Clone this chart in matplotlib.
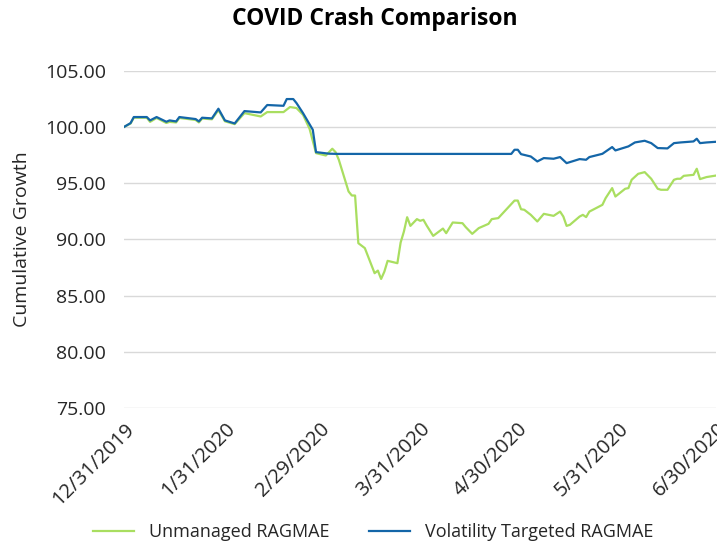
import matplotlib
matplotlib.use("Agg")
import matplotlib.pyplot as plt
import pandas as pd

plt.rcParams["font.family"] = ["Open Sans", "DejaVu Sans"]

vol_dates = ["2019-12-31", "2020-01-02", "2020-01-03", "2020-01-07", "2020-01-08",
             "2020-01-10", "2020-01-13", "2020-01-14", "2020-01-16", "2020-01-17",
             "2020-01-22", "2020-01-23", "2020-01-24", "2020-01-27", "2020-01-29",
             "2020-01-31", "2020-02-03", "2020-02-06", "2020-02-11", "2020-02-13",
             "2020-02-18", "2020-02-19", "2020-02-21", "2020-02-22", "2020-02-24",
             "2020-02-27", "2020-02-28", "2020-03-03", "2020-03-06", "2020-04-28",
             "2020-04-29", "2020-04-30", "2020-05-01", "2020-05-04", "2020-05-06",
             "2020-05-08", "2020-05-11", "2020-05-13", "2020-05-15", "2020-05-19",
             "2020-05-21", "2020-05-22", "2020-05-26", "2020-05-29", "2020-05-30",
             "2020-06-03", "2020-06-05", "2020-06-08", "2020-06-10", "2020-06-12",
             "2020-06-15", "2020-06-17", "2020-06-19", "2020-06-23", "2020-06-24",
             "2020-06-25", "2020-06-27", "2020-06-30"]
vol_values = [100.00, 100.34, 100.88, 100.88, 100.58,
              100.88, 100.46, 100.58, 100.49, 100.88,
              100.70, 100.49, 100.82, 100.76, 101.62,
              100.58, 100.31, 101.41, 101.29, 101.95,
              101.88, 102.48, 102.48, 102.12, 101.23,
              99.75, 97.76, 97.62, 97.60, 97.60,
              97.97, 97.97, 97.58, 97.37, 96.93,
              97.23, 97.17, 97.32, 96.78, 97.14,
              97.08, 97.32, 97.61, 98.21, 97.91,
              98.27, 98.62, 98.77, 98.56, 98.12,
              98.09, 98.56, 98.62, 98.71, 98.95,
              98.56, 98.62, 98.68]

unm_dates = ["2019-12-31", "2020-01-02", "2020-01-03", "2020-01-07", "2020-01-08",
             "2020-01-10", "2020-01-13", "2020-01-14", "2020-01-16", "2020-01-17",
             "2020-01-22", "2020-01-23", "2020-01-24", "2020-01-27", "2020-01-29",
             "2020-01-31", "2020-02-03", "2020-02-06", "2020-02-11", "2020-02-13",
             "2020-02-18", "2020-02-20", "2020-02-22", "2020-02-24", "2020-02-26",
             "2020-02-28", "2020-03-02", "2020-03-04", "2020-03-05", "2020-03-06",
             "2020-03-09", "2020-03-10", "2020-03-11", "2020-03-12", "2020-03-14",
             "2020-03-17", "2020-03-18", "2020-03-19", "2020-03-20", "2020-03-21",
             "2020-03-24", "2020-03-25", "2020-03-26", "2020-03-27", "2020-03-28",
             "2020-03-30", "2020-03-31", "2020-04-01", "2020-04-02", "2020-04-04",
             "2020-04-07", "2020-04-08", "2020-04-10", "2020-04-13", "2020-04-14",
             "2020-04-16", "2020-04-18", "2020-04-21", "2020-04-22", "2020-04-24",
             "2020-04-29", "2020-04-30", "2020-05-01", "2020-05-02", "2020-05-04",
             "2020-05-06", "2020-05-08", "2020-05-11", "2020-05-13", "2020-05-14",
             "2020-05-15", "2020-05-16", "2020-05-19", "2020-05-20", "2020-05-21",
             "2020-05-22", "2020-05-26", "2020-05-27", "2020-05-29", "2020-05-30",
             "2020-06-02", "2020-06-03", "2020-06-04", "2020-06-06", "2020-06-08",
             "2020-06-10", "2020-06-12", "2020-06-13", "2020-06-15", "2020-06-17",
             "2020-06-18", "2020-06-19", "2020-06-20", "2020-06-23", "2020-06-24",
             "2020-06-25", "2020-06-27", "2020-06-30"]
unm_values = [100.00, 100.30, 100.82, 100.82, 100.45,
              100.80, 100.35, 100.45, 100.40, 100.80,
              100.62, 100.40, 100.75, 100.68, 101.50,
              100.50, 100.25, 101.23, 100.93, 101.32,
              101.32, 101.77, 101.68, 101.08, 99.85,
              97.67, 97.46, 98.06, 97.76, 97.08,
              94.26, 93.90, 93.90, 89.66, 89.22,
              86.99, 87.22, 86.48, 87.13, 88.09,
              87.88, 89.72, 90.69, 91.97, 91.20,
              91.80, 91.65, 91.74, 91.23, 90.31,
              90.96, 90.55, 91.50, 91.44, 91.09,
              90.49, 91.00, 91.38, 91.80, 91.89,
              93.45, 93.45, 92.68, 92.63, 92.18,
              91.59, 92.27, 92.09, 92.47, 92.03,
              91.20, 91.29, 92.03, 92.18, 91.98,
              92.47, 93.07, 93.67, 94.56, 93.81,
              94.50, 94.56, 95.30, 95.83, 95.98,
              95.39, 94.50, 94.41, 94.41, 95.30,
              95.39, 95.39, 95.65, 95.74, 96.28,
              95.36, 95.54, 95.68]

tick_dates = ["2019-12-31", "2020-01-31", "2020-02-29", "2020-03-31",
              "2020-04-30", "2020-05-31", "2020-06-30"]
tick_labels = ["12/31/2019", "1/31/2020", "2/29/2020", "3/31/2020",
               "4/30/2020", "5/31/2020", "6/30/2020"]
y_ticks = [75, 80, 85, 90, 95, 100, 105]

green = "#a9de60"
blue = "#1466a8"
txt = "#262626"

fig = plt.figure(figsize=(7.17, 5.44), dpi=100)
ax = fig.add_axes([0.173, 0.25, 0.826, 0.62])

ax.plot(pd.to_datetime(unm_dates), unm_values, color=green, lw=1.6,
        label="Unmanaged RAGMAE")
ax.plot(pd.to_datetime(vol_dates), vol_values, color=blue, lw=1.6,
        label="Volatility Targeted RAGMAE")

ax.set_ylim(75, 105)
ax.set_xlim(pd.Timestamp(tick_dates[0]), pd.Timestamp(tick_dates[-1]))
ax.set_yticks(y_ticks)
ax.set_yticklabels([f"{v:.2f}" for v in y_ticks], fontsize=14, color=txt)
ax.set_xticks(pd.to_datetime(tick_dates))
ax.set_xticklabels(tick_labels, rotation=45, ha="right", rotation_mode="anchor",
                   fontsize=14.5, color=txt)
ax.tick_params(axis="y", length=0, pad=13)
ax.tick_params(axis="x", length=0, pad=8)
ax.grid(axis="y", color="#d9d9d9", lw=1)
ax.set_axisbelow(True)
for s in ax.spines.values():
    s.set_visible(False)

ax.set_ylabel("Cumulative Growth", fontsize=14, color=txt, labelpad=10)
fig.text(0.523, 0.965, "COVID Crash Comparison", fontsize=16.5,
         fontweight="bold", ha="center", va="center", color="black")

fig.legend(loc="lower center", ncol=2, frameon=False, fontsize=13,
           bbox_to_anchor=(0.52, -0.025), handlelength=2.3, columnspacing=2.2,
           labelcolor=txt)

fig.savefig("out.png", dpi=100)
